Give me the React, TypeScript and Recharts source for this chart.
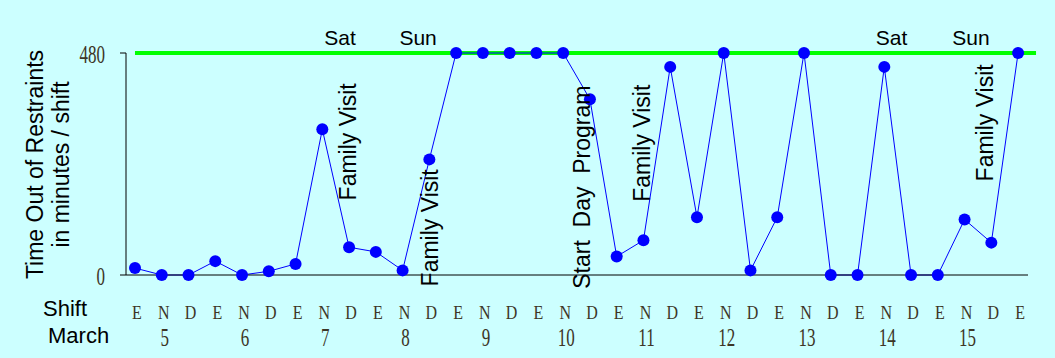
import { LineChart, Line, XAxis, YAxis, ReferenceLine, ReferenceDot } from "recharts"

const shifts = [
  "E", "N", "D", "E", "N", "D", "E", "N", "D", "E", "N", "D",
  "E", "N", "D", "E", "N", "D", "E", "N", "D", "E", "N", "D",
  "E", "N", "D", "E", "N", "D", "E", "N", "D", "E",
]
const days = [
  "", "5", "", "", "6", "", "", "7", "", "", "8", "",
  "", "9", "", "", "10", "", "", "11", "", "", "12", "",
  "", "13", "", "", "14", "", "", "15", "", "",
]
const minutes = [
  15, 0, 0, 30, 0, 8, 24, 315, 60, 50, 10, 250,
  480, 480, 480, 480, 480, 380, 40, 75, 450, 125, 480, 10,
  125, 480, 0, 0, 450, 0, 0, 120, 70, 480,
]
const yTicks = [0, 480]
const target = 480

// notes sit at (shift index, minutes)
const dayNotes = [
  { text: "Sat", at: 7.66, level: 497 },
  { text: "Sun", at: 10.58, level: 497 },
  { text: "Sat", at: 28.27, level: 497 },
  { text: "Sun", at: 31.24, level: 497 },
]
const eventNotes = [
  { text: "Family Visit", at: 8.26, level: 288 },
  { text: "Family Visit", at: 11.32, level: 102 },
  { text: "Start  Day  Program", at: 17.0, level: 190 },
  { text: "Family Visit", at: 19.24, level: 285 },
  { text: "Family Visit", at: 32.06, level: 329 },
]

const data = minutes.map((m, i) => ({ i, m }))

const sans = "'Liberation Sans', Arial, sans-serif"
const serif = "'Liberation Serif', 'Times New Roman', serif"
const tickColor = "#3d3526"

const ShiftTick = (props: any) => {
  const { x, y, payload } = props
  const i = payload.value
  return (
    <g>
      <g transform={`translate(${x + 2},${y + 42}) scale(1,1.23)`}>
        <text textAnchor="middle" fontFamily={serif} fontSize={16} fill={tickColor}>
          {shifts[i]}
        </text>
      </g>
      {days[i] && (
        <g transform={`translate(${x + 3},${y + 69}) scale(1,1.45)`}>
          <text textAnchor="middle" fontFamily={serif} fontSize={17} fill={tickColor}>
            {days[i]}
          </text>
        </g>
      )}
    </g>
  )
}

const ValueTick = (props: any) => {
  const { x, y, payload } = props
  return (
    <g transform={`translate(${x - 13},${y + 9.5}) scale(1,1.45)`}>
      <text textAnchor="end" fontFamily={serif} fontSize={17} fill={tickColor}>
        {payload.value}
      </text>
    </g>
  )
}

export default function App() {
  return (
    <div style={{ position: "absolute", left: 0, top: 0, width: 1055, height: 358, background: "#ccffff" }}>
      <LineChart width={1055} height={358} data={data} margin={{ top: 53, right: 27, bottom: 23, left: 0 }}>
        <XAxis
          dataKey="i"
          type="number"
          domain={[-0.336, 33.37]}
          ticks={shifts.map((_, i) => i)}
          interval={0}
          tickLine={false}
          tickSize={0}
          height={60}
          axisLine={{ stroke: "#000" }}
          tick={<ShiftTick />}
        />
        <YAxis
          type="number"
          domain={[0, 480]}
          ticks={yTicks}
          width={126}
          tickSize={6}
          axisLine={{ stroke: "#000" }}
          tickLine={{ stroke: "#000" }}
          tick={<ValueTick />}
        />
        <ReferenceLine
          segment={[{ x: 0, y: target }, { x: 33.67, y: target }]}
          stroke="#00ff00"
          strokeWidth={4}
          ifOverflow="visible"
        />
        <Line
          dataKey="m"
          stroke="#0000ff"
          strokeWidth={1}
          dot={{ r: 6, fill: "#0000ff", stroke: "none" }}
          activeDot={false}
          isAnimationActive={false}
        />
        {dayNotes.map((n, k) => (
          <ReferenceDot
            key={`d${k}`}
            x={n.at}
            y={n.level}
            r={0}
            ifOverflow="visible"
            shape={(p: any) => (
              <text x={p.cx} y={p.cy} textAnchor="middle" fontFamily={sans} fontSize={21} fill="#000">
                {n.text}
              </text>
            )}
          />
        ))}
        {eventNotes.map((n, k) => (
          <ReferenceDot
            key={`e${k}`}
            x={n.at}
            y={n.level}
            r={0}
            ifOverflow="visible"
            shape={(p: any) => (
              <text
                x={p.cx}
                y={p.cy}
                transform={`rotate(-90 ${p.cx} ${p.cy})`}
                textAnchor="middle"
                fontFamily={sans}
                fontSize={23}
                fill="#000"
                style={{ whiteSpace: "pre" }}
              >
                {n.text}
              </text>
            )}
          />
        ))}
      </LineChart>
      <svg width={1055} height={358} style={{ position: "absolute", left: 0, top: 0, pointerEvents: "none" }}>
        <text transform="translate(43,164.5) rotate(-90)" textAnchor="middle" fontFamily={sans} fontSize={23}>
          Time Out of Restraints
        </text>
        <text transform="translate(69,164.5) rotate(-90)" textAnchor="middle" fontFamily={sans} fontSize={23}>
          in minutes / shift
        </text>
        <text x={43} y={316} fontFamily={sans} fontSize={22}>Shift</text>
        <text x={48} y={343} fontFamily={sans} fontSize={22}>March</text>
      </svg>
    </div>
  )
}
